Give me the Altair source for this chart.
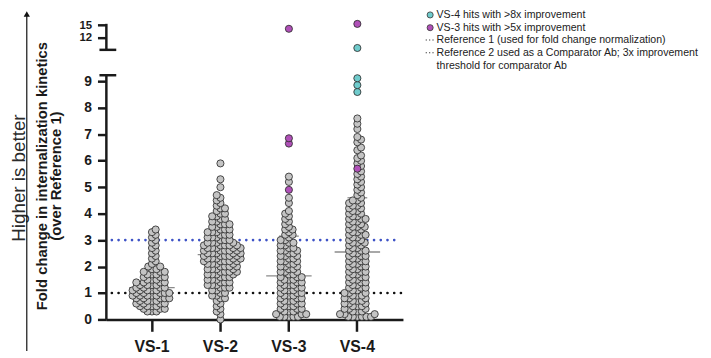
import math
import altair as alt
import pandas as pd

GROUPS = ["VS-1", "VS-2", "VS-3", "VS-4"]

LEVELS = [0.0, 0.1, 0.2, 0.3, 0.4, 0.5, 0.6, 0.7, 0.8, 0.9,
          1.0, 1.1, 1.2, 1.3, 1.4, 1.5, 1.6, 1.7, 1.8, 1.9,
          2.0, 2.1, 2.2, 2.3, 2.4, 2.5, 2.6, 2.7, 2.8, 2.9,
          3.0, 3.1, 3.2, 3.3, 3.4, 3.5, 3.6, 3.7, 3.8, 3.9,
          4.0, 4.1, 4.2, 4.3, 4.4, 4.5, 4.6, 4.7, 4.8, 4.9,
          5.0, 5.1, 5.2, 5.3, 5.4, 5.5, 5.6, 5.7, 5.8, 5.9,
          6.0, 6.1, 6.2, 6.3, 6.4, 6.5, 6.6, 6.7, 6.8, 6.9,
          7.0, 7.1, 7.2, 7.3, 7.4, 7.5, 7.6]

VS1_COUNTS = [0, 0, 0, 3, 3, 4, 4, 4, 5, 5,
              5, 5, 4, 4, 4, 3, 3, 3, 3, 2,
              2, 1, 1, 1, 1, 1, 1, 1, 1, 1,
              1, 1, 1, 1, 1, 0, 0, 0, 0, 0,
              0, 0, 0, 0, 0, 0, 0, 0, 0, 0,
              0, 0, 0, 0, 0, 0, 0, 0, 0, 0,
              0, 0, 0, 0, 0, 0, 0, 0, 0, 0,
              0, 0, 0, 0, 0, 0, 0]
VS2_COUNTS = [1, 0, 1, 1, 1, 1, 1, 1, 2, 2,
              2, 2, 3, 3, 3, 3, 3, 4, 4, 4,
              4, 4, 5, 5, 5, 5, 5, 5, 5, 4,
              3, 3, 3, 3, 3, 2, 3, 2, 2, 2,
              2, 1, 2, 1, 1, 1, 1, 1, 0, 0,
              1, 0, 0, 1, 0, 0, 0, 0, 0, 1,
              0, 0, 0, 0, 0, 0, 0, 0, 0, 0,
              0, 0, 0, 0, 0, 0, 0]
VS3_COUNTS = [0, 5, 3, 3, 3, 3, 3, 3, 3, 3,
              3, 3, 3, 3, 3, 3, 3, 2, 3, 2,
              3, 2, 3, 2, 3, 2, 3, 2, 2, 2,
              2, 1, 2, 1, 2, 1, 1, 1, 1, 1,
              1, 1, 0, 0, 1, 0, 1, 0, 0, 0,
              0, 0, 1, 0, 1, 0, 0, 0, 0, 0,
              0, 0, 0, 0, 0, 0, 0, 0, 0, 0,
              0, 0, 0, 0, 0, 0, 0]
VS4_COUNTS = [0, 6, 3, 3, 3, 3, 3, 3, 3, 3,
              3, 2, 3, 2, 3, 2, 3, 2, 3, 2,
              3, 2, 3, 2, 3, 2, 3, 2, 2, 3,
              2, 2, 3, 2, 2, 3, 2, 2, 3, 2,
              2, 2, 2, 2, 2, 2, 1, 1, 1, 1,
              1, 1, 1, 1, 1, 1, 1, 0, 1, 1,
              1, 1, 1, 0, 1, 1, 0, 1, 1, 1,
              0, 0, 1, 0, 1, 0, 1]
COUNTS = [VS1_COUNTS, VS2_COUNTS, VS3_COUNTS, VS4_COUNTS]

# highlighted hits
HIT_GROUP = ["VS-3", "VS-3", "VS-3", "VS-3", "VS-4", "VS-4", "VS-4", "VS-4", "VS-4", "VS-4"]
HIT_VALUE = [4.9, 6.65, 6.85, 14.1, 5.7, 8.6, 8.86, 9.12, 9.4, 15.3]
HIT_KIND = ["m", "m", "m", "m", "m", "c", "c", "c", "c", "m"]

# mean and mean+SD lines
MEAN_VALUES = [1.2, 2.45, 1.65, 2.55]
SD_UPPER = [1.75, 3.35, 3.15, 4.6]

REF1 = 1
REF2 = 3

LEGEND_LINES = ["VS-4 hits with >8x improvement",
                "VS-3 hits with >5x improvement",
                "Reference 1 (used for fold change normalization)",
                "Reference 2 used as a Comparator Ab; 3x improvement",
                "threshold for comparator Ab"]

Y_TITLE = ["Fold change in internalization kinetics", "(over Reference 1)"]
SIDE_NOTE = "Higher is better"

# ---------------- geometry / style ----------------
W, H = 300, 313
PX = 26.75                 # px per unit in the lower segment
LOW_TOP = 9.234            # display value where lower segment ends
UP_BOTTOM, UP_TOP = 10.194, 11.178
PAD_OUTER = 0.166
STEP = W / (len(GROUPS) + 2 * PAD_OUTER)
HALF = STEP / 2
FONT = "Liberation Sans"
INK = "#1a1a1a"
GRAY = "#c4c4c4"
CYAN = "#6fcbcc"
MAG = "#b050b8"
BLUE = "#3d52c6"


def to_display(v):
    if v <= 9.23:
        return v
    return (285.3 + 4.13 * (v - 12)) / PX


def swarm(pys, c=4.6):
    order = sorted(range(len(pys)), key=lambda i: pys[i])
    placed = []
    xs = [0.0] * len(pys)
    for k, i in enumerate(order):
        y = pys[i]
        near = [(px, py) for (px, py) in placed if abs(py - y) < c]
        cands = [0.0]
        for px, py in near:
            dx = math.sqrt(max(c * c - (py - y) ** 2, 0.0))
            cands.extend([px - dx, px + dx])
        sgn = 1 if k % 2 == 0 else -1
        cands.sort(key=lambda x: (round(abs(x), 6), sgn * x))
        for x in cands:
            if all((x - px) ** 2 + (y - py) ** 2 >= c * c - 1e-6 for px, py in near):
                xs[i] = x
                placed.append((x, y))
                break
    return xs


rows = []
for g, counts in zip(GROUPS, COUNTS):
    vals, kinds = [], []
    for lv, n in zip(LEVELS, counts):
        vals += [lv] * n
        kinds += ["g"] * n
    for hg, hv, hk in zip(HIT_GROUP, HIT_VALUE, HIT_KIND):
        if hg == g:
            vals.append(hv)
            kinds.append(hk)
    disp = [to_display(v) for v in vals]
    offs = swarm([d * PX for d in disp])
    for v, d, o, k in zip(vals, disp, offs, kinds):
        rows.append({"group": g, "value": v, "disp": d, "off": o, "kind": k})
pts = pd.DataFrame(rows)
gray_pts = pts[pts.kind == "g"]
hit_pts = pts[pts.kind != "g"]

x_scale = alt.Scale(domain=GROUPS, paddingInner=0, paddingOuter=PAD_OUTER)
y_scale = alt.Scale(domain=[0, H / PX], nice=False, zero=False)
d12, d15 = to_display(12), to_display(15)

x_axis = alt.Axis(title=None, labelAngle=0, labelFont=FONT, labelFontWeight="bold",
                  labelFontSize=16, labelColor=INK, labelPadding=7, tickSize=12,
                  tickWidth=2.5, tickColor=INK, domainWidth=2.5, domainColor=INK,
                  bandPosition=0.5, grid=False)
y_axis = alt.Axis(title=None, values=[0, 1, 2, 3, 4, 5, 6, 7, 8, 9, d12, d15],
                  labelExpr="datum.value > 11 ? '15' : (datum.value > 10 ? '12' : datum.label)",
                  labelOverlap=False, labelBound=False, labelFlush=False,
                  domain=False, grid=False, tickSize=9, tickWidth=2.5, tickColor=INK,
                  labelFont=FONT, labelFontWeight="bold",
                  labelFontSize={"condition": {"test": "datum.value > 10", "value": 11.5}, "value": 14},
                  labelColor=INK, labelPadding=6)


def X():
    return alt.X("group:N", scale=x_scale, axis=x_axis)


def Y(field="disp:Q"):
    return alt.Y(field, scale=y_scale, axis=y_axis)


xo_enc = alt.XOffset("off:Q", scale=alt.Scale(domain=[-HALF, HALF]))

ref1 = alt.Chart(pd.DataFrame({"disp": [REF1]})).mark_rule(
    color="#111111", strokeWidth=2.6, strokeDash=[0.1, 6.7], strokeCap="round").encode(
    y=Y(), x=alt.value(5.5), x2=alt.value(W))
ref2 = alt.Chart(pd.DataFrame({"disp": [REF2]})).mark_rule(
    color=BLUE, strokeWidth=2.6, strokeDash=[0.1, 6.7], strokeCap="round").encode(
    y=Y(), x=alt.value(5.5), x2=alt.value(W - 4))

mean_df = pd.DataFrame({"group": GROUPS, "disp": MEAN_VALUES})
sd_df = pd.DataFrame({"group": GROUPS, "disp": SD_UPPER})
mean_ticks = alt.Chart(mean_df).mark_tick(size=46, thickness=1.3, color="#5a5a5a").encode(
    x=X(), y=Y())
sd_ticks = alt.Chart(sd_df).mark_tick(size=20, thickness=1.3, color="#5a5a5a").encode(
    x=X(), y=Y())

gray_layer = alt.Chart(gray_pts).mark_circle(size=52, opacity=1, stroke="#2c2c2c", strokeWidth=0.85,
                                              color=GRAY).encode(x=X(), y=Y(), xOffset=xo_enc)
hit_layer = alt.Chart(hit_pts).mark_circle(size=52, opacity=1, stroke="#2c2c2c", strokeWidth=0.85).encode(
    x=X(), y=Y(), xOffset=xo_enc,
    color=alt.Color("kind:N", scale=alt.Scale(domain=["c", "m"], range=[CYAN, MAG]), legend=None))

# broken y axis line + caps (segment ends are styling constants of the break)
seg_df = pd.DataFrame({"disp": [0, UP_BOTTOM], "disp2": [LOW_TOP, UP_TOP]})
cap_df = pd.DataFrame({"disp": [LOW_TOP, UP_BOTTOM]})
ax_segs = alt.Chart(seg_df).mark_rule(color=INK, strokeWidth=2.5).encode(
    x=alt.value(0), y=Y(), y2="disp2:Q")
ax_caps = alt.Chart(cap_df).mark_rule(color=INK, strokeWidth=2.5).encode(
    x=alt.value(-7), x2=alt.value(10), y=Y())

one = pd.DataFrame({"k": [0]})

# left annotations
title_layers = []
for i, line in enumerate(Y_TITLE):
    title_layers.append(alt.Chart(pd.DataFrame({"t": [line]})).mark_text(
        angle=270, font=FONT, fontWeight="bold", fontSize=15, color=INK,
        align="center", baseline="middle").encode(
        x=alt.value(-65 + 14 * i), y=alt.value(168), text="t:N"))
side = alt.Chart(pd.DataFrame({"t": [SIDE_NOTE]})).mark_text(
    angle=270, font=FONT, fontSize=19, color="#2a2a2a", align="center", baseline="middle").encode(
    x=alt.value(-88.5), y=alt.value(170), text="t:N")
arrow_line = alt.Chart(one).mark_rule(color="#111111", strokeWidth=1.2).encode(
    x=alt.value(-80.5), y=alt.value(4), y2=alt.value(345))
arrow_head = alt.Chart(one).mark_point(shape="triangle-up", filled=True, size=40, color="#111111",
                                       opacity=1).encode(x=alt.value(-80.5), y=alt.value(4))

# legend
LEG_X, LEG_Y0, LEG_DY = 334, 5, 12.9
leg_layers = []
for i, line in enumerate(LEGEND_LINES):
    leg_layers.append(alt.Chart(pd.DataFrame({"t": [line]})).mark_text(
        font=FONT, fontSize=10.7, color="#222222", align="left", baseline="middle").encode(
        x=alt.value(LEG_X), y=alt.value(LEG_Y0 + LEG_DY * i), text="t:N"))
for i, col in enumerate([CYAN, MAG]):
    leg_layers.append(alt.Chart(one).mark_circle(size=38, opacity=1, color=col, stroke="#333333",
                                                 strokeWidth=0.8).encode(
        x=alt.value(LEG_X - 6.5), y=alt.value(LEG_Y0 + LEG_DY * i)))
for i in [2, 3]:
    leg_layers.append(alt.Chart(one).mark_rule(color="#333333", strokeWidth=1.1,
                                               strokeDash=[1.2, 2.2]).encode(
        x=alt.value(LEG_X - 11), x2=alt.value(LEG_X - 3), y=alt.value(LEG_Y0 + LEG_DY * i - 0.5)))

chart = alt.layer(
    ref1, ref2, mean_ticks, sd_ticks, gray_layer, hit_layer,
    ax_segs, ax_caps, *title_layers, side, arrow_line, arrow_head, *leg_layers
).properties(
    width=W, height=H,
    autosize=alt.AutoSizeParams(type="none"),
    padding={"left": 99.5, "top": 0, "right": 303.5, "bottom": 37},
).configure_view(stroke=None)

chart.save("out.html", embed_options={"renderer": "svg", "actions": False})
